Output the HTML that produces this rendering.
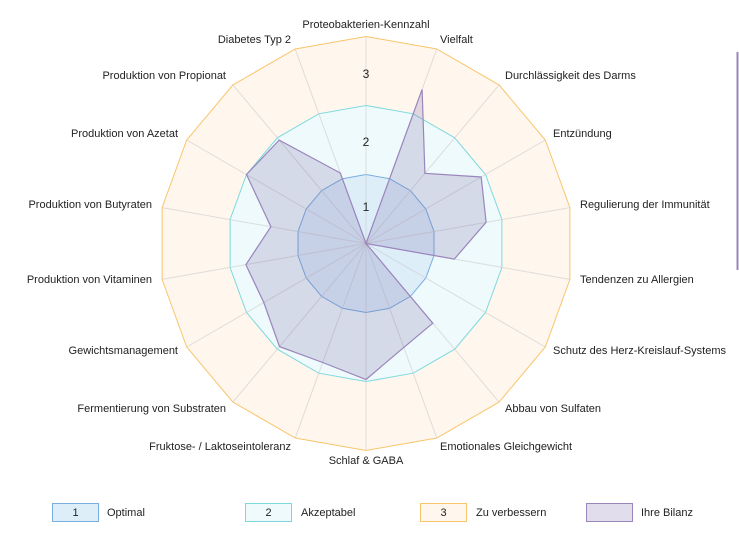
<!DOCTYPE html>
<html><head><meta charset="utf-8"><style>
html,body{margin:0;padding:0;background:#fff;width:739px;height:541px;overflow:hidden}
svg{display:block;font-family:"Liberation Sans",sans-serif}
</style></head><body>
<svg id="s" width="739" height="541" viewBox="0 0 739 541" xmlns="http://www.w3.org/2000/svg">
<g id="g"></g>
<g font-size="11" fill="#222" dominant-baseline="middle">
<text x="366" y="25" text-anchor="middle">Proteobakterien-Kennzahl</text>
<text x="440" y="40">Vielfalt</text>
<text x="505" y="76">Durchlässigkeit des Darms</text>
<text x="553" y="134">Entzündung</text>
<text x="580" y="205">Regulierung der Immunität</text>
<text x="580" y="280">Tendenzen zu Allergien</text>
<text x="553" y="351">Schutz des Herz-Kreislauf-Systems</text>
<text x="505" y="409">Abbau von Sulfaten</text>
<text x="440" y="447">Emotionales Gleichgewicht</text>
<text x="366" y="461" text-anchor="middle">Schlaf &amp; GABA</text>
<text x="291" y="447" text-anchor="end">Fruktose- / Laktoseintoleranz</text>
<text x="226" y="409" text-anchor="end">Fermentierung von Substraten</text>
<text x="178" y="351" text-anchor="end">Gewichtsmanagement</text>
<text x="152" y="280" text-anchor="end">Produktion von Vitaminen</text>
<text x="152" y="205" text-anchor="end">Produktion von Butyraten</text>
<text x="178" y="134" text-anchor="end">Produktion von Azetat</text>
<text x="226" y="76" text-anchor="end">Produktion von Propionat</text>
<text x="291" y="40" text-anchor="end">Diabetes Typ 2</text>
<text x="366" y="75" text-anchor="middle" font-size="12">3</text>
<text x="366" y="143" text-anchor="middle" font-size="12">2</text>
<text x="366" y="208" text-anchor="middle" font-size="12">1</text>
</g>
<line x1="737.5" y1="52" x2="737.5" y2="270" stroke="#9b85bd" stroke-width="2"/>
<g font-size="11" fill="#222" dominant-baseline="middle">
<rect x="52.5" y="503.5" width="46" height="18" fill="#ddeef9" stroke="#7aaee0"/>
<text x="75.5" y="513" text-anchor="middle">1</text><text x="107" y="513">Optimal</text>
<rect x="245.5" y="503.5" width="46" height="18" fill="#eefafb" stroke="#7ed9de"/>
<text x="268.5" y="513" text-anchor="middle">2</text><text x="301" y="513">Akzeptabel</text>
<rect x="420.5" y="503.5" width="46" height="18" fill="#fff6ee" stroke="#f8c56c"/>
<text x="443.5" y="513" text-anchor="middle">3</text><text x="476" y="513">Zu verbessern</text>
<rect x="586.5" y="503.5" width="46" height="18" fill="#e2ddec" stroke="#9b85bd"/>
<text x="641" y="513">Ihre Bilanz</text>
</g>
</svg>
<script>
var cx=366,cy=243.5,N=18,g=document.getElementById('g'),h='';
function pt(i,r){var a=(-90+20*i)*Math.PI/180;return (cx+r*Math.cos(a)).toFixed(1)+','+(cy+r*Math.sin(a)).toFixed(1);}
function poly(r){var p=[];for(var i=0;i<N;i++)p.push(pt(i,r));return p.join(' ');}
h+='<polygon points="'+poly(207)+'" fill="#fff6ee" stroke="#f8c56c" stroke-width="1"/>';
h+='<polygon points="'+poly(138)+'" fill="#eefafb" stroke="#7ed9de" stroke-width="1"/>';
h+='<polygon points="'+poly(69)+'" fill="#ddeef9" stroke="#7aaee0" stroke-width="1"/>';
for(var i=0;i<N;i++)h+='<line x1="'+cx+'" y1="'+cy+'" x2="'+pt(i,207).split(',')[0]+'" y2="'+pt(i,207).split(',')[1]+'" stroke="#ccc" stroke-opacity="0.6" stroke-width="1"/>';
var v=[0,164,91.6,133,122,89.7,0,104,110.6,136,126.6,134.6,118,122,96.6,138,135,75];
var p=[];for(var i=0;i<N;i++)p.push(pt(i,v[i]));
h+='<polygon points="'+p.join(' ')+'" fill="rgba(110,90,160,0.2)" stroke="#9b85bd" stroke-width="1.2"/>';
g.innerHTML=h;
</script>
</body></html>
